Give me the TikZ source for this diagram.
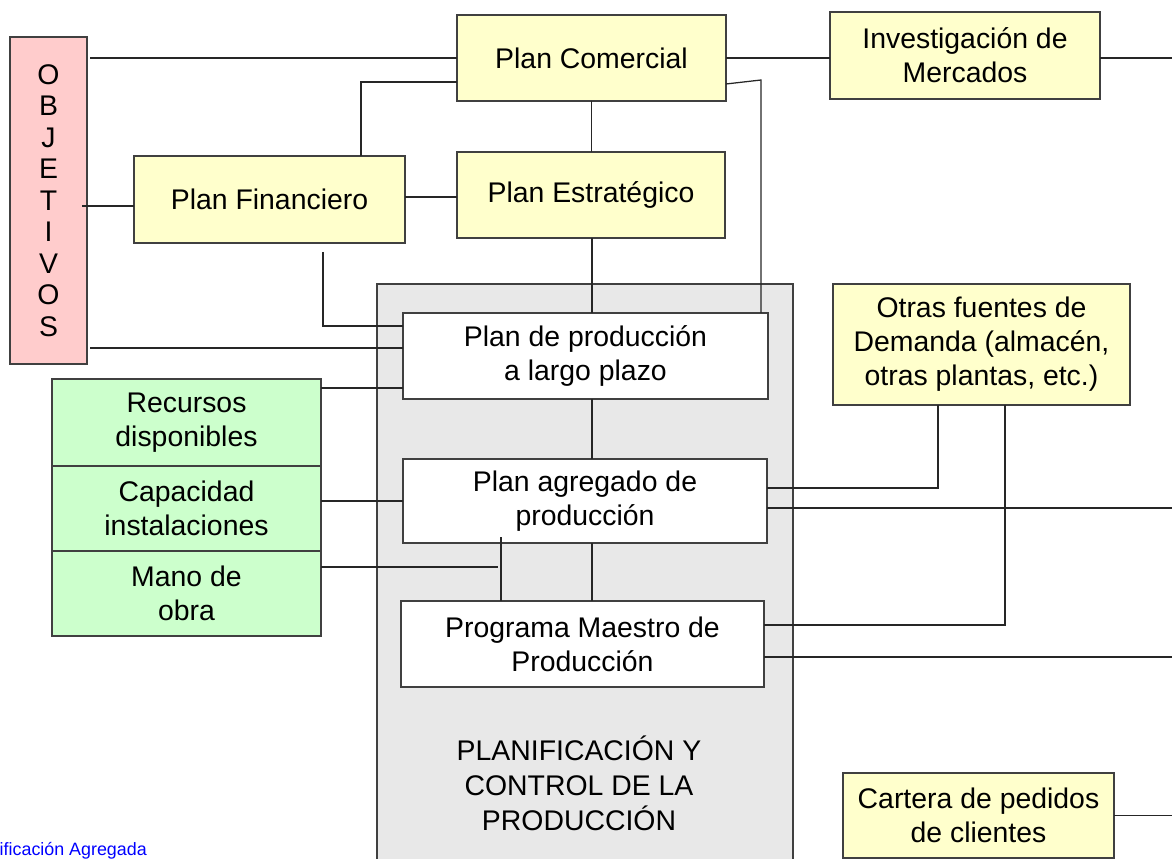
\documentclass[tikz,border=0pt]{standalone}
\usepackage{fontspec}
\setmainfont{Liberation Sans}
\usepackage{tikz}
\usetikzlibrary{calc}
\definecolor{amarillo}{HTML}{FFFFCC}
\definecolor{rosa}{HTML}{FFCCCC}
\definecolor{verde}{HTML}{CCFFCC}
\definecolor{gris}{HTML}{E8E8E8}
\definecolor{borde}{HTML}{404040}
\definecolor{enlace}{HTML}{0000FF}
\def \px{0.75pt}
\tikzstyle{caja} = [draw=borde,line width=1.1pt,inner sep=0pt,outer sep=0pt,align=center,font=\fontsize{21.3}{25.5}\selectfont]
\tikzstyle{plan} = [caja,fill=amarillo]
\tikzstyle{prod} = [caja,fill=white]
\tikzstyle{recurso} = [caja,fill=verde,minimum width=269*\px]
\tikzstyle{linea} = [draw=black!85,line width=0.95pt]

\begin{document}
\begin{tikzpicture}[x=0.75pt,y=-0.75pt]
		\useasboundingbox (0,0) rectangle (1172,859);
		\begin{scope}

		% Draw the production block
		\node[caja,fill=gris,minimum width=416*\px,minimum height=591*\px] (pcp) at (585,579.5) {};
		\node[align=center,font=\fontsize{21.3}{26.3}\selectfont] (pcptxt) at (579,783) {PLANIFICACIÓN Y\\CONTROL DE LA\\PRODUCCIÓN};

		% Draw the boxes
		\node[caja,fill=rosa,minimum width=77*\px,minimum height=327*\px,font=\fontsize{21.3}{23.6}\selectfont] (obj) at (48.5,200.5) {O\\B\\J\\E\\T\\I\\V\\O\\S};
		\node[plan,minimum width=269*\px,minimum height=86*\px] (com) at (591.5,58) {Plan Comercial};
		\node[plan,minimum width=270*\px,minimum height=87*\px] (inv) at (965,55.5) {Investigación de\\Mercados};
		\node[plan,minimum width=271*\px,minimum height=87*\px] (fin) at (269.5,199.5) {Plan Financiero};
		\node[plan,minimum width=268*\px,minimum height=86*\px] (est) at (591,195) {Plan Estratégico};
		\node[plan,minimum width=297*\px,minimum height=121*\px] (otras) at (981.5,344.5) {Otras fuentes de\\Demanda (almacén,\\otras plantas, etc.)};
		\node[plan,minimum width=271*\px,minimum height=85*\px] (cart) at (978.5,815.5) {Cartera de pedidos\\de clientes};

		\node[prod,minimum width=365*\px,minimum height=86*\px] (lp) at (585.5,356) {Plan de producción\\a largo plazo};
		\node[prod,minimum width=364*\px,minimum height=84*\px] (agr) at (585,501) {Plan agregado de\\producción};
		\node[prod,minimum width=363*\px,minimum height=86*\px] (mps) at (582.5,644) {Programa Maestro de\\Producción};

		\node[recurso,minimum height=87*\px] (rec) at (186.5,422.5) {Recursos\\disponibles};
		\node[recurso,minimum height=85*\px] (cap) at (186.5,508.5) {Capacidad\\instalaciones};
		\node[recurso,minimum height=85*\px] (mano) at (186.5,593.5) {Mano de\\obra};

		\node[anchor=east,inner sep=0pt,text=enlace,font=\fontsize{13.4}{16}\selectfont] (pie) at (147,851) {ificación Agregada};

		% Draw the links
		\draw[linea] ($(obj.north east)+(3,21)$) -- (com.west);
		\draw[linea] (com.east) -- (com.east -| inv.west);
		\draw[linea] (com.east -| inv.east) -- ++(80,0);
		\draw[linea] ($(fin.north)+(91.5,0)$) |- ($(com.north west)+(0,67)$);
		\draw[linea] ($(obj.east)+(-5,5.5)$) -- ($(fin.west)+(0,6.5)$);
		\draw[linea] ($(fin.east)+(0,-2.5)$) -- ($(est.west)+(0,2)$);
		\draw[linea] (com.south) -- (com.south |- est.north);
		\draw[linea] ($(est.south)+(1,0)$) -- ($(lp.north)+(6.5,0)$);
		\draw[linea] ($(com.east)+(0,26)$) -- ($(com.east)+(35,22)$) -- ($(lp.north east)+(-7,0)$);
		\draw[linea] ($(fin.south)+(53.5,9)$) |- ($(lp.north west)+(0,13)$);
		\draw[linea] ($(obj.south east)+(3,-16)$) -- ($(lp.west)+(0,-8)$);
		\draw[linea] ($(rec.north east)+(0,9)$) -- ($(lp.south west)+(0,-11)$);
		\draw[linea] ($(lp.south)+(6.5,0)$) -- ($(agr.north)+(7,0)$);
		\draw[linea] (agr.west -| cap.east) -- (agr.west);
		\draw[linea] ($(mano.east)+(0,-26.5)$) -- ++(177,0);
		\draw[linea] ($(agr.south)+(-84,-6)$) -- ($(mps.north)+(-81.5,0)$);
		\draw[linea] ($(agr.south)+(7,0)$) -- ($(mps.north)+(9.5,0)$);
		\draw[linea] ($(agr.east)+(0,-13)$) -| ($(otras.south)+(-43.5,0)$);
		\draw[linea] ($(agr.east)+(0,7)$) -- ++(410,0);
		\draw[linea] ($(otras.south)+(23.5,0)$) |- ($(mps.east)+(0,-19)$);
		\draw[linea] ($(mps.east)+(0,13)$) -- ++(415,0);
		\draw[linea] (cart.east) -- ++(70,0);

		\end{scope}
\end{tikzpicture}
\end{document}
